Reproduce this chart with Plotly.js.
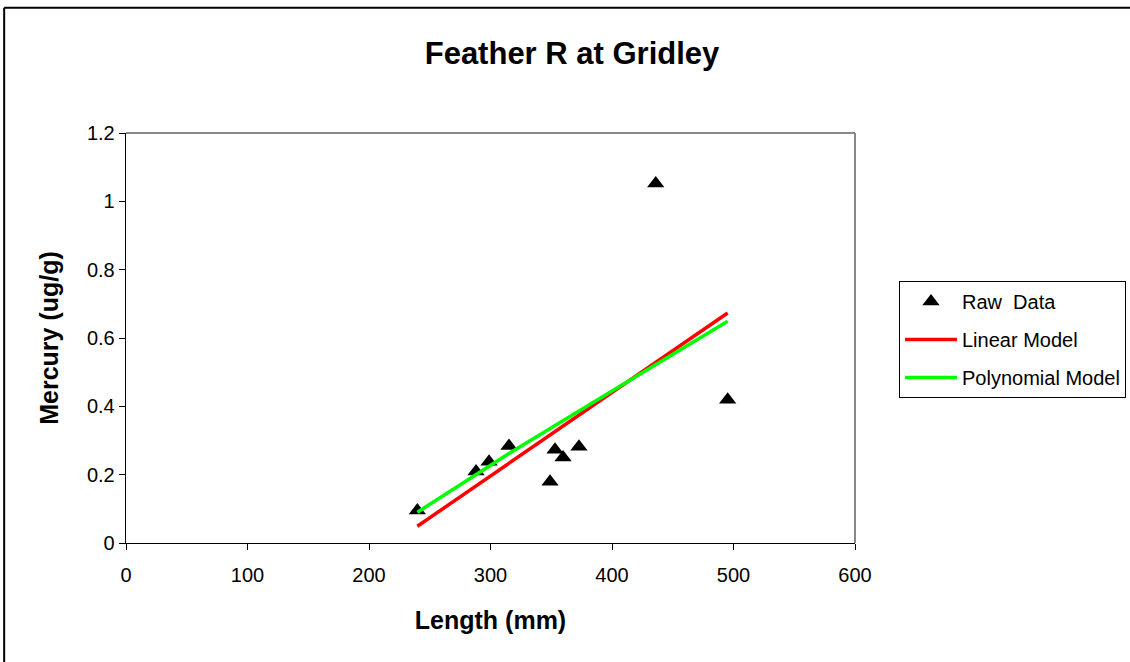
<!DOCTYPE html>
<html>
<head>
<meta charset="utf-8">
<script src="https://cdn.plot.ly/plotly-3.0.1.min.js"></script>
<style>
html,body{margin:0;padding:0;background:#fff;}
#chart{width:1130px;height:662px;}
</style>
</head>
<body>
<div id="chart"></div>
<script>
// Raw data (length mm, mercury ug/g)
const rawLength  = [239.8, 288.1, 298.8, 315.2, 349.0, 353.1, 359.7, 372.8, 436.0, 495.2];
const rawMercury = [0.095, 0.209, 0.238, 0.284, 0.179, 0.273, 0.250, 0.282, 1.052, 0.419];

// Linear model line
const linLength  = [239.8, 495.2];
const linMercury = [0.049, 0.673];

// Polynomial model line
const polyLength  = [239.8, 315.2, 400.0, 495.2];
const polyMercury = [0.090, 0.262, 0.445, 0.649];

const xTicks = [0, 100, 200, 300, 400, 500, 600];
const yTicks = [0, 0.2, 0.4, 0.6, 0.8, 1, 1.2];

const FONT = 'Arial, "Liberation Sans", sans-serif';

// plot area in pixels
const L = 125.5, R = 855.5, T = 133.3, B = 543.3, W = 1130, H = 662;
const px = x => (x - L) / (R - L);
const py = y => (B - y) / (B - T);

const traces = [
  {x: rawLength, y: rawMercury, mode: 'markers', type: 'scatter', name: 'Raw  Data',
   legendgroup: 'a',
   marker: {symbol: 'triangle-up', size: 15, color: '#000'}},
  {x: linLength, y: linMercury, mode: 'lines', type: 'scatter', name: 'Linear Model',
   legendgroup: 'b',
   line: {color: '#ff0000', width: 3.5}},
  {x: polyLength, y: polyMercury, mode: 'lines', type: 'scatter', name: 'Polynomial Model',
   legendgroup: 'c',
   line: {color: '#00ff00', width: 3.5}}
];

const layout = {
  width: W, height: H,
  margin: {l: L, r: W - R, t: T, b: H - B, pad: 0},
  paper_bgcolor: '#fff', plot_bgcolor: '#fff',
  font: {family: FONT, color: '#000', size: 20},
  title: {text: '<b>Feather R at Gridley</b>', font: {family: FONT, size: 31, color: '#000'},
          x: 572/W, xanchor: 'center', y: 1 - 53/H, yanchor: 'middle', xref: 'container', yref: 'container'},
  xaxis: {range: [0, 600], tickvals: xTicks, ticktext: xTicks.map(String),
          showgrid: false, zeroline: false, showline: true, linecolor: '#000', linewidth: 1.3,
          ticks: 'outside', ticklen: 6, tickcolor: '#000', tickwidth: 1,
          ticklabelstandoff: 8,
          tickfont: {family: FONT, size: 20, color: '#000'},
          title: {text: '<b>Length (mm)</b>', font: {family: FONT, size: 25, color: '#000'}, standoff: 26},
          fixedrange: true},
  yaxis: {range: [0, 1.2], tickvals: yTicks, ticktext: yTicks.map(String),
          showgrid: false, zeroline: false, showline: true, linecolor: '#000', linewidth: 1.3,
          ticks: 'outside', ticklen: 6, tickcolor: '#000', tickwidth: 1,
          tickfont: {family: FONT, size: 20, color: '#000'},
          title: {text: '<b>Mercury (ug/g)</b>', font: {family: FONT, size: 25, color: '#000'}, standoff: 21},
          fixedrange: true},
  legend: {xref: 'container', yref: 'container', x: 899/W, y: 1 - 281/H, xanchor: 'left', yanchor: 'top',
           bordercolor: '#000', borderwidth: 1, bgcolor: '#fff',
           font: {family: FONT, size: 20, color: '#000'},
           itemwidth: 52,
           tracegroupgap: 9, traceorder: 'grouped'},
  shapes: [
    {type: 'line', xref: 'paper', yref: 'paper', x0: 0, x1: 1, y0: 1, y1: 1, line: {color: '#888', width: 2}},
    {type: 'line', xref: 'paper', yref: 'paper', x0: 1, x1: 1, y0: 0, y1: 1, line: {color: '#888', width: 2}},
    {type: 'line', xref: 'paper', yref: 'paper', x0: px(3.5), x1: px(1140), y0: py(8), y1: py(8), line: {color: '#000', width: 2}},
    {type: 'line', xref: 'paper', yref: 'paper', x0: px(3.5), x1: px(3.5), y0: py(8), y1: py(700), line: {color: '#000', width: 2}}
  ],
  showlegend: true
};

Plotly.newPlot('chart', traces, layout, {displayModeBar: false, staticPlot: true});
</script>
</body>
</html>
